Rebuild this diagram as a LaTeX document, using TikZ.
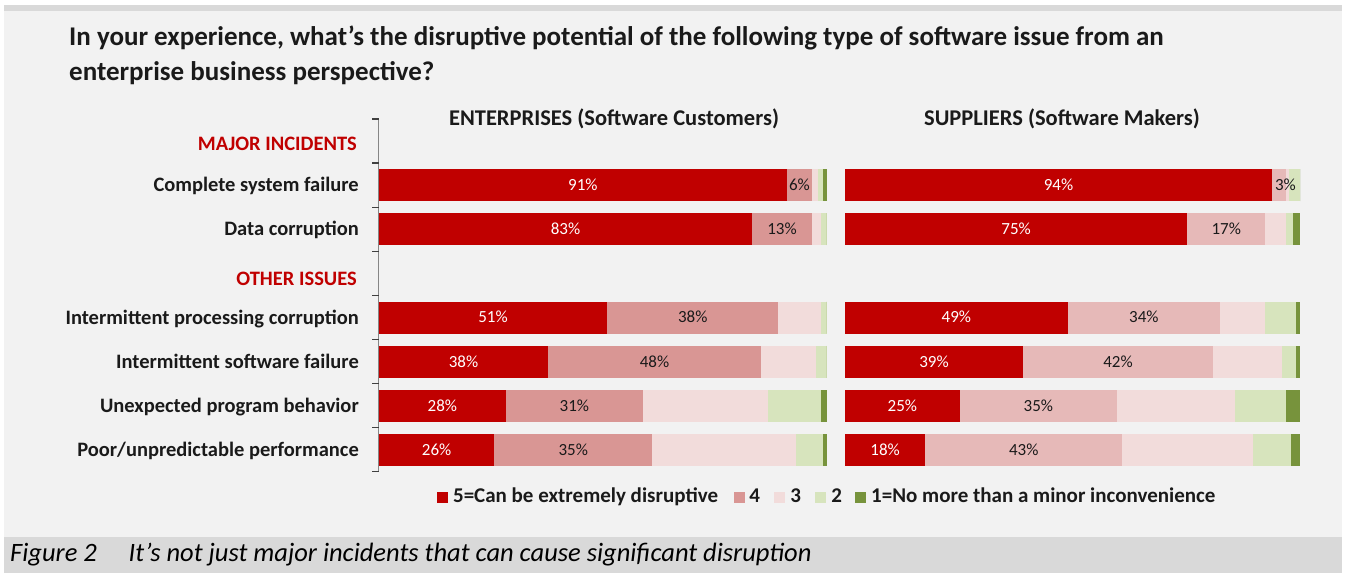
\documentclass[tikz,border=0pt]{standalone}
\usepackage{fontspec}
\setmainfont{Carlito}
\definecolor{cfive}{HTML}{C00000}
\definecolor{cfourL}{HTML}{D99694}
\definecolor{cfourR}{HTML}{E6B9B8}
\definecolor{cthree}{HTML}{F2DCDB}
\definecolor{ctwo}{HTML}{D7E4BD}
\definecolor{cone}{HTML}{77933C}
\definecolor{bggray}{HTML}{F2F2F2}
\definecolor{bandgray}{HTML}{D9D9D9}
\definecolor{txtdark}{HTML}{1A1A1A}
\definecolor{axisgray}{HTML}{868686}
\begin{document}
\begin{tikzpicture}[x=1pt,y=-1pt,
  titletext/.style={font=\bfseries\fontsize{27}{30}\selectfont, text=txtdark, anchor=base west, inner sep=0},
  cat/.style={font=\bfseries\fontsize{20.5}{23}\selectfont, text=txtdark, anchor=mid east, inner sep=0, yshift=-4.5pt},
  sect/.style={cat, text=cfive},
  hdr/.style={font=\bfseries\fontsize{22.5}{25}\selectfont, text=txtdark, anchor=mid, inner sep=0, yshift=-5pt},
  pctw/.style={font=\fontsize{17}{20}\selectfont, text=white, anchor=mid, inner sep=0, yshift=-3pt},
  pctb/.style={pctw, text=txtdark},
  leg/.style={font=\bfseries\fontsize{21}{24}\selectfont, text=txtdark, anchor=mid west, inner sep=0},
  legsq/.style={minimum size=11pt, inner sep=0, anchor=west},
  captext/.style={font=\itshape\fontsize{26.5}{30}\selectfont, text=black, anchor=mid west, inner sep=0}
]
\useasboundingbox (0,0) rectangle (1345,573);
\fill[white] (0,0) rectangle (1345,573);
\fill[bandgray] (4,5) rectangle (1342,11);
\fill[bggray] (4,11) rectangle (1342,537);
\fill[bandgray] (4,537) rectangle (1342,573);

% title
\node[titletext] (t1) at (69,45) {In your experience, what’s the disruptive potential of the following type of software issue from an};
\node[titletext] (t2) at (69,80) {enterprise business perspective?};

% headers
\node[hdr] (h1) at (614,118) {ENTERPRISES (Software Customers)};
\node[hdr] (h2) at (1062,118) {SUPPLIERS (Software Makers)};

% sections and categories
\node[sect] (s1) at (357,144) {MAJOR INCIDENTS};
\node[sect] (s2) at (357,279) {OTHER ISSUES};
\node[cat] (c1) at (359,185) {Complete system failure};
\node[cat] (c2) at (359,229) {Data corruption};
\node[cat] (c3) at (359,317.5) {Intermittent processing corruption};
\node[cat] (c4) at (359,361.8) {Intermittent software failure};
\node[cat] (c5) at (359,405.8) {Unexpected program behavior};
\node[cat] (c6) at (359,450) {Poor/unpredictable performance};

% axis
\draw[axisgray, line width=1.5pt] (378.5,119) -- (378.5,471.7);
\foreach \k in {0,...,8}{
  \draw[black!75, line width=1.2pt] (372,{119+44.09*\k}) -- (378.5,{119+44.09*\k});
}

% left panel bars
\foreach \y/\a/\b/\c/\d/\e/\f/\p/\q/\lb/\n in {
  185/379/786.7/812/818/823.3/826.7/91/6/799.4/1,
  229/379/752/812/821/826.7/826.7/83/13/782/2,
  317.5/379/607/778.3/821/826.7/826.7/51/38/692.7/3,
  361.8/379/548/761/815.7/826.7/826.7/38/48/654.5/4,
  405.8/379/505.7/643/767.7/820.7/826.7/28/31/574.4/5,
  450/379/494.3/652/795.7/823.3/826.7/26/35/573.2/6}{
  \fill[cfive] (\a,\y-16) rectangle (\b,\y+16);
  \fill[cfourL] (\b,\y-16) rectangle (\c,\y+16);
  \fill[cthree] (\c,\y-16) rectangle (\d,\y+16);
  \fill[ctwo] (\d,\y-16) rectangle (\e,\y+16);
  \fill[cone] (\e,\y-16) rectangle (\f,\y+16);
  \node[pctw] (la\n) at ({(\a+\b)/2},\y) {\p\%};
  \node[pctb] (lb\n) at (\lb,\y) {\q\%};
}

% right panel bars
\foreach \y/\a/\b/\c/\d/\e/\f/\p/\q/\lb/\n in {
  185/845/1272/1286/1289/1300/1300/94/3/1285.5/1,
  229/845/1187.3/1265/1286/1293/1300/75/17/1226.2/2,
  317.5/845/1067.7/1220/1265/1295.7/1300/49/34/1143.9/3,
  361.8/845/1023/1213/1282/1295.7/1300/39/42/1118/4,
  405.8/845/959.7/1117/1234.7/1286/1300/25/35/1038.4/5,
  450/845/925.3/1122/1253/1290.7/1300/18/43/1023.7/6}{
  \fill[cfive] (\a,\y-16) rectangle (\b,\y+16);
  \fill[cfourR] (\b,\y-16) rectangle (\c,\y+16);
  \fill[cthree] (\c,\y-16) rectangle (\d,\y+16);
  \fill[ctwo] (\d,\y-16) rectangle (\e,\y+16);
  \fill[cone] (\e,\y-16) rectangle (\f,\y+16);
  \node[pctw] (ra\n) at ({(\a+\b)/2},\y) {\p\%};
  \node[pctb] (rb\n) at (\lb,\y) {\q\%};
}

% legend
\node[legsq, fill=cfive] (q5) at (437,497) {};
\node[leg] (l5) at ([xshift=4.5pt,yshift=-3pt]q5.east) {5=Can be extremely disruptive};
\node[legsq, fill=cfourL] (q4) at ([xshift=15pt,yshift=3pt]l5.mid east) {};
\node[leg] (l4) at ([xshift=4.5pt,yshift=-3pt]q4.east) {4};
\node[legsq, fill=cthree] (q3) at ([xshift=14pt,yshift=3pt]l4.mid east) {};
\node[leg] (l3) at ([xshift=4.5pt,yshift=-3pt]q3.east) {3};
\node[legsq, fill=ctwo] (q2) at ([xshift=14pt,yshift=3pt]l3.mid east) {};
\node[leg] (l2) at ([xshift=4.5pt,yshift=-3pt]q2.east) {2};
\node[legsq, fill=cone] (q1) at ([xshift=13pt,yshift=3pt]l2.mid east) {};
\node[leg] (l1) at ([xshift=4.5pt,yshift=-3pt]q1.east) {1=No more than a minor inconvenience};

% caption
\node[captext] (cap) at (10,559) {Figure 2\hspace{1.2em}It’s not just major incidents that can cause significant disruption};
\end{tikzpicture}
\end{document}
